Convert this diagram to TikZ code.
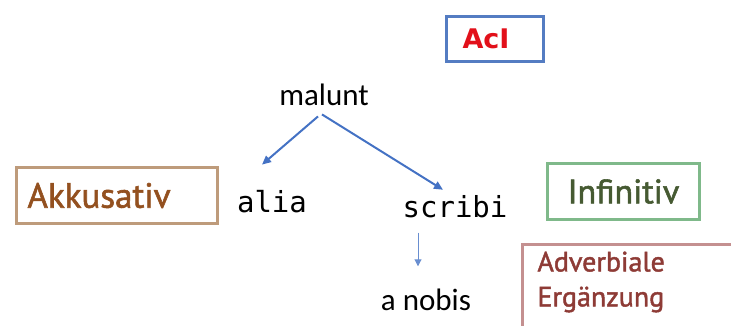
\documentclass[tikz,border=0pt]{standalone}
\usepackage{fontspec}
\setmainfont{PT Sans}[FakeBold=1.6]
\newfontfamily\calfont{Carlito}
\newfontfamily\consfont{DejaVu Sans Mono}
\newfontfamily\acifont{DejaVu Sans}
\usetikzlibrary{arrows.meta}

\definecolor{acblue}{RGB}{84,124,194}
\definecolor{acred}{RGB}{226,16,26}
\definecolor{arrowblue}{RGB}{68,114,196}
\definecolor{akkline}{RGB}{190,155,123}
\definecolor{akktext}{RGB}{147,80,31}
\definecolor{infline}{RGB}{127,185,138}
\definecolor{inftext}{RGB}{70,90,50}
\definecolor{advline}{RGB}{196,144,144}
\definecolor{advtext}{RGB}{142,59,54}

\tikzset{
  word/.style={inner sep=0pt, anchor=base},
  latin/.style={word, font=\calfont\fontsize{31}{36}\selectfont},
  code/.style={word, font=\consfont\fontsize{29}{34}\selectfont},
  labelbox/.style={draw, line width=3pt, anchor=north west, inner ysep=0pt},
  tree/.style={-{Triangle[length=9pt,width=8pt]}, line width=2pt, arrowblue},
  thin tree/.style={-{Triangle[length=7pt,width=7pt]}, line width=1pt, arrowblue!80},
}

\begin{document}
\begin{tikzpicture}[x=1pt,y=-1pt]
    \useasboundingbox (0,0) rectangle (731,325);
    \clip (0,0) rectangle (731,325);

      % words
      \node[latin] (malunt) at (324,105) {malunt};
      \node[code]  (alia)   at (272,212) {alia};
      \node[code]  (scribi) at (455,217) {scribi};
      \node[latin] (anobis) at (426,310) {a nobis};

      % labels
      \node[labelbox, draw=acblue, text=acred, font=\acifont\bfseries\fontsize{27}{32}\selectfont,
            minimum width=97pt, minimum height=45pt, text width=65pt, inner xsep=16pt, align=left] (aci) at (445,15) {AcI};
      \node[labelbox, draw=akkline, text=akktext, font=\fontsize{35}{40}\selectfont,
            minimum width=201pt, minimum height=56pt, text width=179pt, inner xsep=11pt, align=left] (akk) at (15,166) {Akkusativ};
      \node[labelbox, draw=infline, text=inftext, font=\fontsize{34}{40}\selectfont,
            minimum width=152pt, minimum height=56pt, text width=124pt, inner xsep=14pt, align=center] (inf) at (546,162) {Infinitiv};
      \node[labelbox, draw=advline, text=advtext, font=\fontsize{28}{35}\selectfont,
            minimum width=260pt, text width=230pt, inner xsep=12pt, inner ysep=7pt, text depth=70pt, align=left] (adv) at (521,243) {Adverbiale\\Erg\"anzung};

      \path[tree] ([xshift=-6pt,yshift=-11pt]malunt.south) edge ([xshift=-10pt,yshift=25pt]alia.north);
      \path[tree] ([xshift=-2pt,yshift=-9pt]malunt.south) edge ([xshift=-12pt,yshift=5pt]scribi.north);
      \path[thin tree] ([xshift=-37pt,yshift=-15pt]scribi.south) edge ([xshift=-8pt,yshift=22pt]anobis.north);
    \end{tikzpicture}
\end{document}
